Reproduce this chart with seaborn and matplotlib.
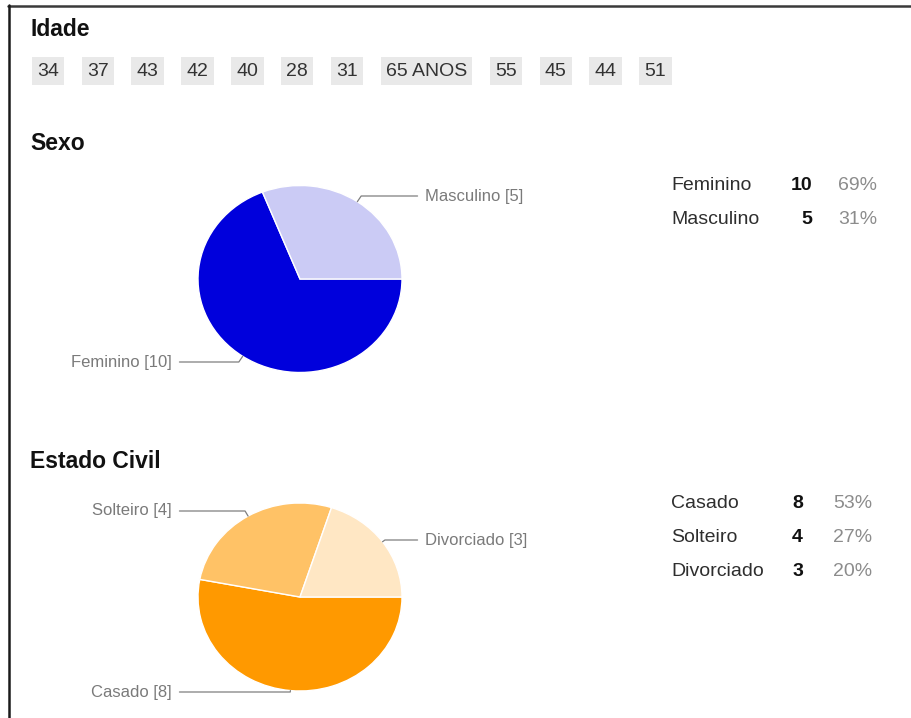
import numpy as np
import matplotlib
matplotlib.use("Agg")
import matplotlib.pyplot as plt
import seaborn as sns
from matplotlib.lines import Line2D

# dados do formulario
idades = ["34", "37", "43", "42", "40", "28", "31", "65 ANOS", "55", "45", "44", "51"]

sexo_labels = ["Feminino", "Masculino"]
sexo_counts = [10, 5]
sexo_pct = [69, 31]

civil_labels = ["Casado", "Solteiro", "Divorciado"]
civil_counts = [8, 4, 3]
civil_pct = [53, 27, 20]

sexo_colors = ["#0000dc", "#cbcbf5"]
civil_colors = ["#ff9900", "#ffc266", "#ffe7c4"]

sns.set_theme(style="white")
plt.rcParams["font.family"] = ["Liberation Sans", "DejaVu Sans"]

W, H = 911, 718
fig = plt.figure(figsize=(W / 100, H / 100), dpi=100)
fig.patch.set_facecolor("white")


def fx(x):
    return x / W


def fy(y):
    return 1 - y / H


# moldura (screenshot)
fig.add_artist(Line2D([fx(8), fx(911)], [fy(5.5), fy(5.5)], color="#3a3a3a", lw=1.8))
fig.add_artist(Line2D([fx(8.5), fx(8.5)], [fy(5), fy(718)], color="#1a1a1a", lw=1.8))

# titulos
for txt, y in [("Idade", 29.5), ("Sexo", 143), ("Estado Civil", 462)]:
    fig.text(fx(30), fy(y), txt, fontsize=16.5, fontweight="bold", color="#111111",
             ha="left", va="center")

# Idade: caixas cinzas
renderer = fig.canvas.get_renderer()
x = 37
pad = 0.27
for idade in idades:
    t = fig.text(fx(x), fy(71), idade, fontsize=14, color="#333333", ha="left", va="center",
                 bbox=dict(boxstyle=f"square,pad={pad}", fc="#e9e9e9", ec="none"))
    bb = t.get_window_extent(renderer)
    padpx = pad * 14 * 100 / 72
    x = x + bb.width + 2 * padpx + 17.5


def pie_block(top, bottom, pct, colors, labels, counts, label_pos, tab_y, num_x, pct_x):
    ax = fig.add_axes([fx(198), fy(bottom), 204 / W, (bottom - top) / H])
    wedges, _ = ax.pie(pct, colors=colors, startangle=0, counterclock=False,
                       wedgeprops=dict(edgecolor="white", linewidth=1))
    ax.set_aspect("auto")
    ax.set_xlim(-1, 1)
    ax.set_ylim(-1, 1)
    ax.axis("off")
    for w, lab, c, (lx, ly, side) in zip(wedges, labels, counts, label_pos):
        mid = (w.theta1 + w.theta2) / 2
        xy = (np.cos(np.radians(mid)), np.sin(np.radians(mid)))
        ax.annotate(f"{lab} [{c}]", xy=xy, xycoords="data",
                    xytext=(lx, H - ly), textcoords="figure pixels",
                    ha=side, va="center", fontsize=12, color="#7a7a7a",
                    arrowprops=dict(arrowstyle="-", color="#7f7f7f", lw=0.9,
                                    shrinkA=3, shrinkB=0,
                                    connectionstyle=f"angle,angleA=0,angleB={mid},rad=0"))
    # tabela a direita
    for lab, c, p, y in zip(labels, counts, pct, tab_y):
        fig.text(fx(671), fy(y), lab, fontsize=14, color="#2e2e2e", ha="left", va="center")
        fig.text(fx(num_x), fy(y), str(c), fontsize=14, fontweight="bold", color="#111111",
                 ha="right", va="center")
        fig.text(fx(pct_x), fy(y), f"{p}%", fontsize=14, color="#8c8c8c", ha="left", va="center")


pie_block(185.5, 372.5, sexo_pct, sexo_colors, sexo_labels, sexo_counts,
          [(172, 362, "right"), (425, 196, "left")],
          [185, 219], 812, 838)

pie_block(503, 691, civil_pct, civil_colors, civil_labels, civil_counts,
          [(172, 692, "right"), (172, 511, "right"), (425, 540, "left")],
          [503, 537, 571], 803, 833)

fig.savefig("out.png", dpi=100)
